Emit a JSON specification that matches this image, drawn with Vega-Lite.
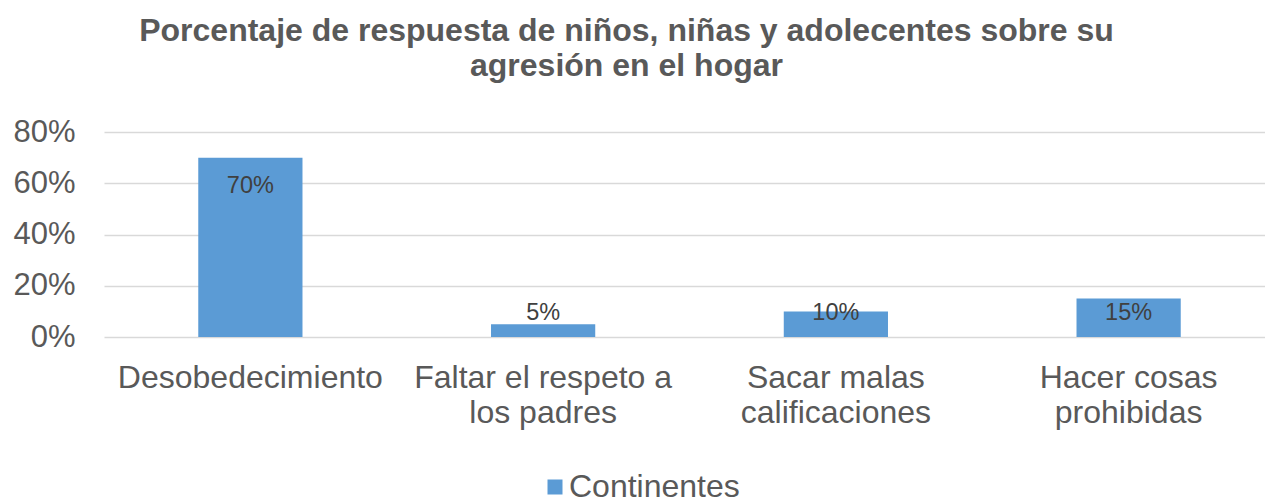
{
  "$schema": "https://vega.github.io/schema/vega-lite/v6.json",
  "width": 1161,
  "height": 205,
  "autosize": {"type": "none"},
  "padding": {"left": 104, "top": 132, "right": 0, "bottom": 167},
  "background": "white",
  "config": {
    "view": {"stroke": null},
    "font": "Liberation Sans"
  },
  "title": {
    "text": ["Porcentaje de respuesta de niños, niñas y adolecentes sobre su", "agresión en el hogar"],
    "font": "Liberation Sans",
    "fontSize": 32,
    "fontWeight": "bold",
    "color": "#595959",
    "anchor": "middle",
    "dx": -58,
    "lineHeight": 35,
    "offset": 33
  },
  "data": {
    "values": [
      {"categoria": "Desobedecimiento", "valor": 0.70, "serie": "Continentes"},
      {"categoria": "Faltar el respeto a los padres", "valor": 0.05, "serie": "Continentes"},
      {"categoria": "Sacar malas calificaciones", "valor": 0.10, "serie": "Continentes"},
      {"categoria": "Hacer cosas prohibidas", "valor": 0.15, "serie": "Continentes"}
    ]
  },
  "encoding": {
    "x": {
      "field": "categoria",
      "type": "nominal",
      "sort": null,
      "scale": {"range": [0, 1171], "paddingInner": 0.644, "paddingOuter": 0.322},
      "axis": {
        "title": null,
        "domain": false,
        "ticks": false,
        "labelAngle": 0,
        "labelFont": "Liberation Sans",
        "labelFontSize": 32,
        "labelColor": "#595959",
        "labelPadding": 25,
        "labelLineHeight": 35,
        "labelLimit": 0,
        "labelExpr": "datum.label == 'Faltar el respeto a los padres' ? ['Faltar el respeto a', 'los padres'] : datum.label == 'Sacar malas calificaciones' ? ['Sacar malas', 'calificaciones'] : datum.label == 'Hacer cosas prohibidas' ? ['Hacer cosas', 'prohibidas'] : datum.label"
      }
    }
  },
  "layer": [
    {
      "mark": {"type": "bar"},
      "encoding": {
        "y": {
          "field": "valor",
          "type": "quantitative",
          "scale": {"domain": [0, 0.8], "nice": false},
          "axis": {
            "title": null,
            "values": [0, 0.2, 0.4, 0.6, 0.8],
            "format": ".0%",
            "domain": false,
            "ticks": false,
            "grid": true,
            "gridColor": "#d9d9d9",
            "gridWidth": 1.5,
            "labelFont": "Liberation Sans",
            "labelFontSize": 31,
            "labelColor": "#595959",
            "labelPadding": 29
          }
        },
        "color": {
          "field": "serie",
          "type": "nominal",
          "scale": {"range": ["#5b9bd5"]},
          "legend": {
            "title": null,
            "orient": "none",
            "legendX": 435,
            "legendY": 339,
            "direction": "horizontal",
            "symbolType": "square",
            "symbolSize": 225,
            "symbolStrokeWidth": 0,
            "symbolOpacity": 1,
            "labelFont": "Liberation Sans",
            "labelFontSize": 32,
            "labelColor": "#595959",
            "labelOffset": -2,
            "labelLimit": 0
          }
        }
      }
    },
    {
      "transform": [{"filter": "datum.valor > 0.5"}],
      "mark": {"type": "text", "font": "Liberation Sans", "fontSize": 23.5, "color": "#404040", "baseline": "middle", "align": "center", "dy": 28},
      "encoding": {
        "y": {"field": "valor", "type": "quantitative"},
        "text": {"field": "valor", "type": "quantitative", "format": ".0%"}
      }
    },
    {
      "transform": [{"filter": "datum.valor < 0.5"}],
      "mark": {"type": "text", "font": "Liberation Sans", "fontSize": 23.5, "color": "#404040", "baseline": "middle", "align": "center"},
      "encoding": {
        "y": {"datum": 0.094, "type": "quantitative"},
        "text": {"field": "valor", "type": "quantitative", "format": ".0%"}
      }
    }
  ]
}
